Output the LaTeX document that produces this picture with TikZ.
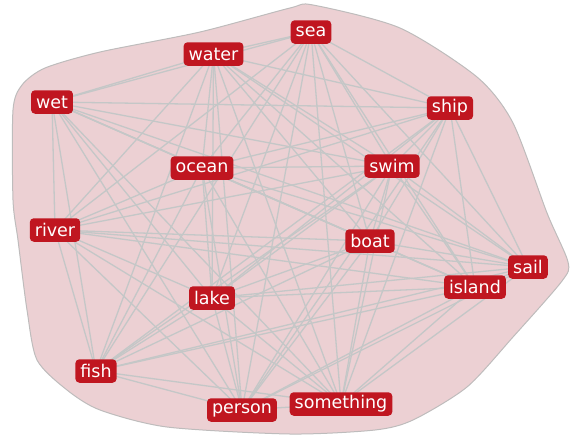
\documentclass[tikz,border=0pt]{standalone}
\usepackage{fontspec}
\newfontfamily\labfont{DejaVu Sans}
\definecolor{blobfill}{RGB}{236,208,211}
\definecolor{blobline}{RGB}{190,188,188}
\definecolor{edgecol}{RGB}{196,199,199}
\definecolor{nodered}{RGB}{192,22,32}
\pgfdeclarelayer{back}
\pgfdeclarelayer{edges}
\pgfsetlayers{back,edges,main}
\tikzset{
  word/.style={fill=nodered, text=white, rounded corners=4pt, inner xsep=5pt,
    inner ysep=0pt, minimum height=23.5pt, font=\labfont\fontsize{17.5}{19}\selectfont},
  link/.style={draw=edgecol, line width=1.3pt}
}
\begin{document}
\begin{tikzpicture}[x=1pt,y=-1pt]
\useasboundingbox (0,0) rectangle (572,439);
\begin{pgfonlayer}{back}
\draw[fill=blobfill, draw=blobline, line width=1pt] plot[smooth cycle, tension=0.45] coordinates {
(313,5) (400,28) (477,77) (513,123) (547,213) (568,262) (562,281) (513,337) (467,387)
(413,420) (375,430) (290,434) (167,427) (100,410) (67,390) (37,360) (27,310) (18,240)
(13,200) (13,110) (22,85) (45,68) (100,52) (200,32) (290,8)};
\end{pgfonlayer}
\node[word] (sea) at (311,32) {sea};
\node[word] (water) at (213.5,54) {water};
\node[word] (wet) at (52,102) {wet};
\node[word] (ship) at (450,108) {ship};
\node[word] (ocean) at (202,168) {ocean};
\node[word] (swim) at (392,166) {swim};
\node[word] (river) at (55,230) {river};
\node[word] (boat) at (370,241) {boat};
\node[word] (sail) at (528,267) {sail};
\node[word] (island) at (475,287) {island};
\node[word] (lake) at (212,298) {lake};
\node[word] (fish) at (96,371) {fish};
\node[word] (person) at (242,410) {person};
\node[word] (something) at (341,404) {something};
\begin{pgfonlayer}{edges}
\foreach \a [count=\i] in {sea,water,wet,ship,ocean,swim,river,boat,sail,island,lake,fish,person,something}{
  \foreach \b [count=\j] in {sea,water,wet,ship,ocean,swim,river,boat,sail,island,lake,fish,person,something}{
    \ifnum\j>\i \draw[link] (\a.center) -- (\b.center); \fi
  }
}
\end{pgfonlayer}
\end{tikzpicture}
\end{document}
